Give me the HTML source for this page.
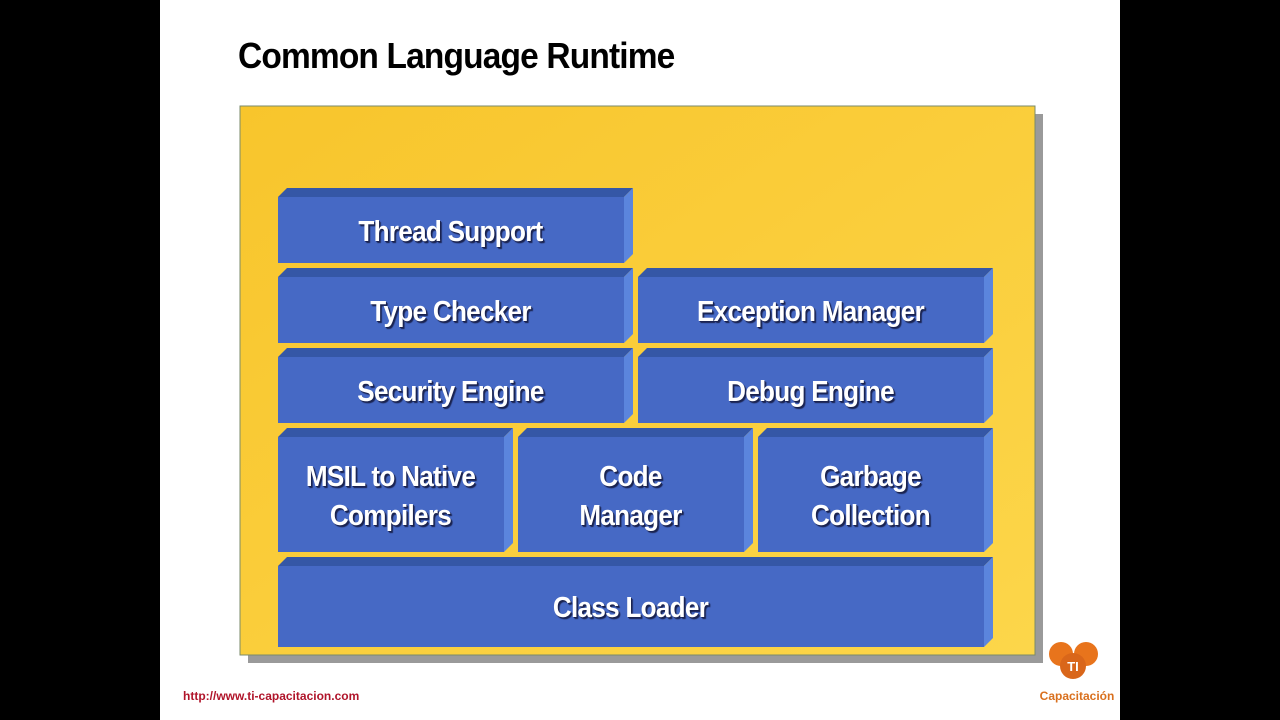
<!DOCTYPE html>
<html><head><meta charset="utf-8"><style>
html,body{margin:0;padding:0;width:1280px;height:720px;overflow:hidden;background:#000;}
.slide{position:absolute;left:160px;top:0;width:960px;height:720px;background:#fff;}
.t{position:absolute;color:#fff;font-family:"Liberation Sans",sans-serif;font-weight:bold;font-size:29px;letter-spacing:-0.8px;text-align:center;line-height:39px;text-shadow:2px 2px 1px #1a2350,1px 1px 0 #1a2350;transform:scaleX(0.9);}
</style></head><body>
<div class="slide"></div>
<div style="position:absolute;left:238px;top:35px;font-family:'Liberation Sans',sans-serif;font-weight:bold;font-size:36px;letter-spacing:-0.9px;color:#000;transform:scaleX(0.93);transform-origin:0 0;">Common Language Runtime</div>
<svg width="1280" height="720" style="position:absolute;left:0;top:0">
<defs><linearGradient id="g" x1="0" y1="0" x2="1" y2="1"><stop offset="0" stop-color="#f8c52c"/><stop offset="1" stop-color="#fcd64a"/></linearGradient></defs>
<rect x="248" y="114" width="795" height="549" fill="#9a9a9a"/>
<rect x="240" y="106" width="795" height="549" fill="url(#g)" stroke="#7a8a6a" stroke-width="1"/>
<g id="b"></g>
</svg>
<script>
const B=[[278,188,633,263],[278,268,633,343],[638,268,993,343],[278,348,633,423],[638,348,993,423],[278,428,513,552],[518,428,753,552],[758,428,993,552],[278,557,993,647]];
let s='';const d=9;
for(const [a,b,c,e] of B){
s+=`<rect x="${a}" y="${b+d}" width="${c-d-a}" height="${e-b-d}" fill="#4669c5"/>`;
s+=`<polygon points="${a},${b+d} ${a+d},${b} ${c},${b} ${c-d},${b+d}" fill="#3557a6"/>`;
s+=`<polygon points="${c-d},${b+d} ${c},${b} ${c},${e-d} ${c-d},${e}" fill="#5b85dd"/>`;}
document.getElementById('b').innerHTML=s;
</script>
<div class="t" style="left:278px;top:213px;width:345px;">Thread Support</div>
<div class="t" style="left:278px;top:293px;width:345px;">Type Checker</div>
<div class="t" style="left:638px;top:293px;width:345px;">Exception Manager</div>
<div class="t" style="left:278px;top:373px;width:345px;">Security Engine</div>
<div class="t" style="left:638px;top:373px;width:345px;">Debug Engine</div>
<div class="t" style="left:268px;top:458px;width:245px;">MSIL to Native<br>Compilers</div>
<div class="t" style="left:518px;top:458px;width:225px;">Code<br>Manager</div>
<div class="t" style="left:758px;top:458px;width:225px;">Garbage<br>Collection</div>
<div class="t" style="left:278px;top:589px;width:705px;">Class Loader</div>
<div style="position:absolute;left:183px;top:689px;font-family:'Liberation Sans',sans-serif;font-weight:bold;font-size:12px;color:#b0142a;">http://www.ti-capacitacion.com</div>
<svg width="80" height="70" style="position:absolute;left:1040px;top:636px">
<circle cx="21" cy="18" r="12" fill="#e8741c"/><circle cx="46" cy="18" r="12" fill="#e8741c"/><circle cx="33" cy="30" r="13" fill="#d9661a"/>
<text x="33" y="35" font-family="Liberation Sans" font-weight="bold" font-size="13" fill="#fff" text-anchor="middle">TI</text>
<text x="37" y="64" font-family="Liberation Sans" font-weight="bold" font-size="12" fill="#d9701e" text-anchor="middle">Capacitación</text>
</svg>
</body></html>
